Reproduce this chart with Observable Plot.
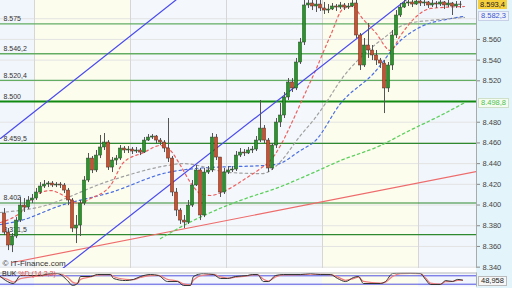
<!DOCTYPE html>
<html><head><meta charset="utf-8">
<script src="https://cdn.jsdelivr.net/npm/d3@7"></script>
<script src="https://cdn.jsdelivr.net/npm/@observablehq/plot@0.6"></script>
<style>
body{margin:0;background:#fff;}
#c{position:relative;width:512px;height:288px;overflow:hidden;font-family:"Liberation Sans",Arial,sans-serif;background:#fff;}
#c svg{position:absolute;left:0;}
.box{position:absolute;left:478px;height:9px;line-height:9px;font-size:7.5px;padding:0 2px;white-space:nowrap;}
</style></head><body><div id="c"></div>
<script>
// ---- candles (price, bar index = position) ----
const firstOpen = 8391.8;
const closes = [8373.4,8360.9,8369.6,8385.0,8399.5,8397.6,8404.4,8406.3,8412.1,8417.9,8419.8,8420.8,8418.9,8419.8,8418.9,8414.0,8404.4,8377.3,8380.2,8401.5,
8423.7,8444.9,8433.4,8447.8,8455.6,8460.4,8436.2,8443.0,8444.9,8454.6,8452.7,8453.6,8451.7,8452.7,8450.7,8462.3,8465.2,8466.2,8462.3,8460.4,
8454.6,8444.9,8412.1,8394.7,8385.0,8383.1,8399.5,8418.9,8433.4,8389.9,8431.4,8433.4,8465.2,8445.9,8412.1,8431.4,8433.4,8434.3,8447.8,8450.7,
8449.8,8452.7,8453.6,8462.3,8473.9,8462.3,8435.3,8457.5,8479.7,8486.5,8503.9,8518.4,8512.6,8537.7,8557.0,8592.8,8594.7,8591.8,8593.7,8589.9,
8587.9,8588.9,8591.8,8590.8,8592.8,8590.8,8591.8,8594.7,8563.8,8534.8,8554.1,8549.3,8544.5,8539.6,8536.7,8512.6,8534.8,8563.8,8583.1,8590.8,
8594.7,8595.7,8593.7,8596.6,8594.7,8595.7,8592.8,8594.7,8593.7,8595.7,8592.8,8594.7,8591.8,8593.7,8593.4];
const highs = [8396.6,8377.3,8372.5,8387.9,8407.3,8406.3,8408.2,8410.2,8416.0,8421.7,8423.7,8422.7,8422.7,8421.7,8421.7,8420.8,8416.0,8406.3,8389.9,8404.4,
8427.5,8449.8,8446.9,8452.7,8467.2,8469.1,8462.3,8445.9,8447.8,8457.5,8456.5,8456.5,8455.6,8455.6,8454.6,8465.2,8468.1,8468.1,8467.2,8464.3,
8462.3,8483.6,8446.9,8416.0,8396.6,8389.9,8404.4,8423.7,8438.2,8435.3,8435.3,8437.2,8469.1,8468.1,8445.9,8435.3,8437.2,8437.2,8451.7,8454.6,
8453.6,8455.6,8456.5,8466.2,8501.0,8476.8,8464.3,8459.4,8483.6,8498.1,8508.7,8522.2,8522.2,8541.6,8560.9,8597.6,8602.4,8597.6,8600.5,8597.6,
8595.7,8593.7,8594.7,8593.7,8595.7,8594.7,8594.7,8597.6,8597.6,8565.7,8560.9,8575.4,8554.1,8549.3,8541.6,8539.6,8537.7,8568.6,8587.9,8594.7,
8599.5,8598.6,8597.6,8599.5,8597.6,8598.6,8596.6,8597.6,8596.6,8598.6,8596.6,8597.6,8595.7,8596.6,8596.6];
const lows = [8370.5,8356.0,8354.1,8367.6,8383.1,8392.8,8395.7,8401.5,8404.4,8410.2,8416.0,8416.9,8416.9,8416.9,8416.0,8411.1,8399.5,8373.4,8362.8,8369.6,
8399.5,8421.7,8430.4,8431.4,8444.9,8452.7,8433.4,8431.4,8438.2,8443.0,8449.8,8449.8,8448.8,8449.8,8447.8,8449.8,8461.4,8463.3,8459.4,8457.5,
8450.7,8441.1,8408.2,8388.9,8381.2,8377.3,8381.2,8397.6,8417.9,8385.0,8387.9,8429.5,8431.4,8443.0,8407.3,8410.2,8429.5,8431.4,8432.4,8445.9,
8446.9,8448.8,8449.8,8451.7,8460.4,8459.4,8431.4,8433.4,8454.6,8474.9,8483.6,8501.0,8508.7,8510.6,8535.8,8554.1,8589.9,8587.9,8586.0,8587.0,
8584.1,8585.0,8587.9,8587.0,8588.9,8587.9,8588.9,8590.8,8560.9,8530.0,8532.9,8541.6,8539.6,8534.8,8531.9,8488.4,8508.7,8530.0,8560.9,8581.2,
8589.9,8591.8,8590.8,8592.8,8591.8,8591.8,8589.9,8590.8,8589.9,8591.8,8588.9,8590.8,8583.1,8589.9,8589.9];

// ---- moving averages (bar index, price) ----
const maRedIdx = [-1,4,7.75,11.5,15.25,18.5,21.5,26.5,29.75,34.75,39,41.5,44,46.5,49,51.5,55.25,60.25,64,66.5,69,71.5,74,77.75,81.5,84.75,87,89.5,92.75,96.5,99,103.25,106.5,115];
const maRedVal = [8383.1,8392.8,8409.2,8414.0,8408.2,8401.5,8406.3,8418.9,8441.1,8450.7,8457.5,8452.7,8438.2,8421.7,8411.1,8409.2,8414.0,8425.6,8435.3,8443.0,8457.5,8476.8,8498.1,8530.0,8563.8,8589.9,8591.8,8580.2,8566.7,8549.3,8563.8,8583.1,8589.9,8591.8];
const maGreyIdx = [-1,8.25,26.5,40.75,44.5,56.5,64.5,67.75,74,77.75,80.75,84,89,94,100.75,106.5,115];
const maGreyVal = [8392.8,8397.6,8423.7,8438.2,8440.1,8431.4,8430.4,8437.2,8467.2,8484.6,8501.0,8520.3,8542.5,8558.9,8575.4,8578.3,8581.2];
const maBlueIdx = [-1,4,14,26.5,40.75,47.75,67.75,74,77.75,84,92.25,99,104.75,110.25,115];
const maBlueVal = [8381.2,8385.0,8399.5,8412.1,8431.4,8435.3,8439.1,8452.7,8462.3,8498.1,8527.1,8558.9,8573.4,8579.2,8582.3];
const maGreenIdx = [39,45.25,51.5,58.25,69.75,77.25,84,94,100.75,109,115];
const maGreenVal = [8367.6,8381.2,8392.8,8403.4,8418.9,8431.4,8443.0,8457.5,8471.0,8486.5,8498.8];

// ---- trend lines ----
const chanUpIdx = [-1,50], chanUpVal = [8464.3,8619.9];
const chanLoIdx = [10,105], chanLoVal = [8325.0,8612.0];
const supIdx = [2,118], supVal = [8344.5,8432.4];

// ---- levels ----
const levels = [8575,8546.2,8520.4,8500,8459.5,8402,8371.5];
const levelLabels = ["8.575","8.546,2","8.520,4","8.500","8.459,5","8.402","8.371,5"];
const levelStrong = [false,false,false,true,true,true,true];

// ---- axis ticks / sessions ----
const yTicks = [8340,8360,8380,8400,8420,8440,8460,8480,8520,8540,8560];
const gridTicks = [8340,8360,8380,8400,8420,8440,8460,8480,8500,8520,8540,8560,8580];
const sessionBounds = [-1,7.5,31.5,55.5,79.5,103.5,118];
const sessionColors = ["#f1f6fc","#fdfdee","#f4f8fc","#f4f8fc","#fdfdee","#f1f6fc"];

// ---- stochastic ----
const stIdx = [-1,0.75,2.25,4,9,11.5,13.25,15.75,17,18.25,19,21.5,23.25,26.5,27.25,30.25,32.25,34,36.5,38.5,40.75,43.25,44.75,46.5,47.25,49.75,52.25,54,55.75,57.75,60.75,62,63.25,64.75,66,67.75,69.75,74,76.5,79,81.5,83.25,85.25,87.25,88.5,89.75,94,95.25,97,99,101.5,104,105.25,106.5,109,110.25,112,113.25,114.5];
const stK = [75,39,25,82,82,96,96,46,11,25,75,75,89,89,61,46,54,75,89,82,39,39,11,11,75,96,89,61,61,75,82,89,89,39,39,82,89,89,96,89,89,61,39,68,75,25,25,39,96,99,99,96,54,18,18,46,39,54,49];
const stD = [70,55,35,60,80,90,95,70,35,25,55,72,85,88,75,55,52,68,82,83,55,42,22,15,50,85,90,72,64,70,80,86,88,55,42,72,86,88,92,90,88,72,48,60,70,40,28,35,75,95,98,96,65,28,20,38,40,48,49];
const stLevels = [80,20];

const lastPrice = "8.593,4", blueLabel = "8.582,3", greenLabel = "8.498,8", stLabel = "48,958";

// ---------- build ----------
const candles = closes.map((c,i)=>({i, o: i? closes[i-1] : firstOpen, c, h: highs[i], l: lows[i]}));
const pts = (ix, v) => ix.map((x,k)=>({x, y: v[k]}));
const sessions = sessionColors.map((f,k)=>({x1: sessionBounds[k], x2: sessionBounds[k+1], f}));
const lev = levels.map((v,k)=>({v, t: levelLabels[k], s: levelStrong[k]}));
const fmt = v => (v/1000).toFixed(3);

const X = {domain: [-1,118], axis: null};
const main = Plot.plot({
  width: 512, height: 268, marginLeft: 0, marginRight: 36, marginTop: 0, marginBottom: 0,
  style: {background: "transparent", fontFamily: "Liberation Sans, Arial, sans-serif", overflow: "visible"},
  x: X,
  y: {domain: [8338.7, 8597.6], axis: null},
  marks: [
    Plot.rect(sessions, {x1: "x1", x2: "x2", y1: 8338.7, y2: 8597.6, fill: "f"}),
    Plot.ruleY(gridTicks, {stroke: "#e3e3e3", strokeWidth: 1}),
    Plot.ruleX(sessionBounds.slice(1,-1), {stroke: "#d6d6d6", strokeWidth: 1}),
    Plot.ruleY(lev.filter(d=>!d.s), {y: "v", stroke: "#63ad63", strokeWidth: 1.4}),
    Plot.ruleY(lev.filter(d=>d.s && d.v!==8500), {y: "v", stroke: "#2f8a2f", strokeWidth: 1.2}),
    Plot.ruleY(lev.filter(d=>d.v===8500), {y: "v", stroke: "#118a11", strokeWidth: 2}),
    Plot.text(lev, {x: -1, y: "v", text: "t", textAnchor: "start", dx: 3, dy: -5, fontSize: 7, fill: "#333"}),
    Plot.line(pts(supIdx, supVal), {x: "x", y: "y", stroke: "#ee6b6b", strokeWidth: 1.2, clip: true}),
    Plot.line(pts(maGreenIdx, maGreenVal), {x: "x", y: "y", stroke: "#5ed05e", strokeWidth: 1.3, strokeDasharray: "2.5,3", curve: "monotone-x", clip: true}),
    Plot.line(pts(maBlueIdx, maBlueVal), {x: "x", y: "y", stroke: "#4a6ee0", strokeWidth: 1.2, strokeDasharray: "2.5,3", curve: "monotone-x", clip: true}),
    Plot.line(pts(maGreyIdx, maGreyVal), {x: "x", y: "y", stroke: "#a0a0a0", strokeWidth: 1.2, strokeDasharray: "2.5,3", curve: "monotone-x", clip: true}),
    Plot.line(pts(maRedIdx, maRedVal), {x: "x", y: "y", stroke: "#ee6060", strokeWidth: 1.2, strokeDasharray: "2.5,3", curve: "monotone-x", clip: true}),
    Plot.line(pts(chanUpIdx, chanUpVal), {x: "x", y: "y", stroke: "#4a4aee", strokeWidth: 1.2, clip: true}),
    Plot.line(pts(chanLoIdx, chanLoVal), {x: "x", y: "y", stroke: "#4a4aee", strokeWidth: 1.2, clip: true}),
    Plot.ruleX(candles, {x: "i", y1: "l", y2: "h", stroke: "#555", strokeWidth: 1, clip: true}),
    Plot.rect(candles, {x1: d=>d.i-0.38, x2: d=>d.i+0.38, y1: "o", y2: "c",
      fill: d=> d.c >= d.o ? "#1e9e1e" : "#dd4a22", stroke: "#333", strokeWidth: 0.5, clip: true}),
    Plot.text(["© IT-Finance.com"], {x: -1, y: 8338.7, text: d=>d, textAnchor: "start", dx: 2, dy: -5, fontSize: 8, fill: "#333"}),
    Plot.axisY(yTicks, {anchor: "right", tickFormat: fmt, tickSize: 3, tickPadding: 3, fontSize: 7.5, color: "#444", stroke: "#888"}),
    Plot.ruleX([118], {stroke: "#aaa"})
  ]
});
main.style.top = "0px";

const sub = Plot.plot({
  width: 512, height: 20, marginLeft: 0, marginRight: 36, marginTop: 4.5, marginBottom: 1.5,
  style: {background: "transparent", fontFamily: "Liberation Sans, Arial, sans-serif"},
  x: X,
  y: {domain: [0, 100], axis: null},
  marks: [
    Plot.rect(sessions, {x1: "x1", x2: "x2", y1: -30, y2: 130, fill: "f", clip: true}),
    Plot.ruleY(stLevels, {stroke: "#5050e0", strokeWidth: 1}),
    Plot.line(pts(stIdx, stD), {x: "x", y: "y", stroke: "#f08080", strokeWidth: 1.3, curve: "monotone-x", clip: true}),
    Plot.line(pts(stIdx, stK), {x: "x", y: "y", stroke: "#333", strokeWidth: 1, curve: "monotone-x", clip: true}),
    Plot.ruleX([118], {stroke: "#aaa"}),
    Plot.frame({anchor: "top", stroke: "#bbb"})
  ]
});
sub.style.top = "268px";

const c = document.getElementById("c");
const rightBg = document.createElement("div");
rightBg.style.cssText = "position:absolute;left:476px;top:0;width:36px;height:288px;background:#e3f5fb;";
c.appendChild(rightBg);
c.appendChild(sub);
c.appendChild(main);

const ys = main.scale("y");
function box(text, v, top, css){
  const d = document.createElement("div");
  d.className = "box"; d.textContent = text;
  const yy = top != null ? top : ys.apply(v) - 4.5;
  d.style.cssText += `top:${yy}px;` + css;
  c.appendChild(d);
}
box(lastPrice, 8593.4, 0, "background:#f6cf3c;color:#222;");
box(blueLabel, 8582.3, null, "background:#eef2fb;color:#3a55d0;border:1px solid #c8d0e8;height:8px;line-height:8px;");
box(greenLabel, 8498.8, null, "background:#f4fbf0;color:#4cc24c;border:1px solid #cfe0c8;height:8px;line-height:8px;");
const ss = sub.scale("y");
box(stLabel, 49, 268 + ss.apply(49) - 4, "background:#f6f6f6;color:#222;border:1px solid #bbb;height:8px;line-height:8px;");

// panel label
const lab = document.createElement("div");
lab.style.cssText = "position:absolute;left:2px;top:270px;font-size:7px;white-space:nowrap;";
lab.innerHTML = '<span style="color:#222">BUK</span> <span style="color:#e05050">%D (14,3,3)</span>';
c.appendChild(lab);
</script></body></html>
